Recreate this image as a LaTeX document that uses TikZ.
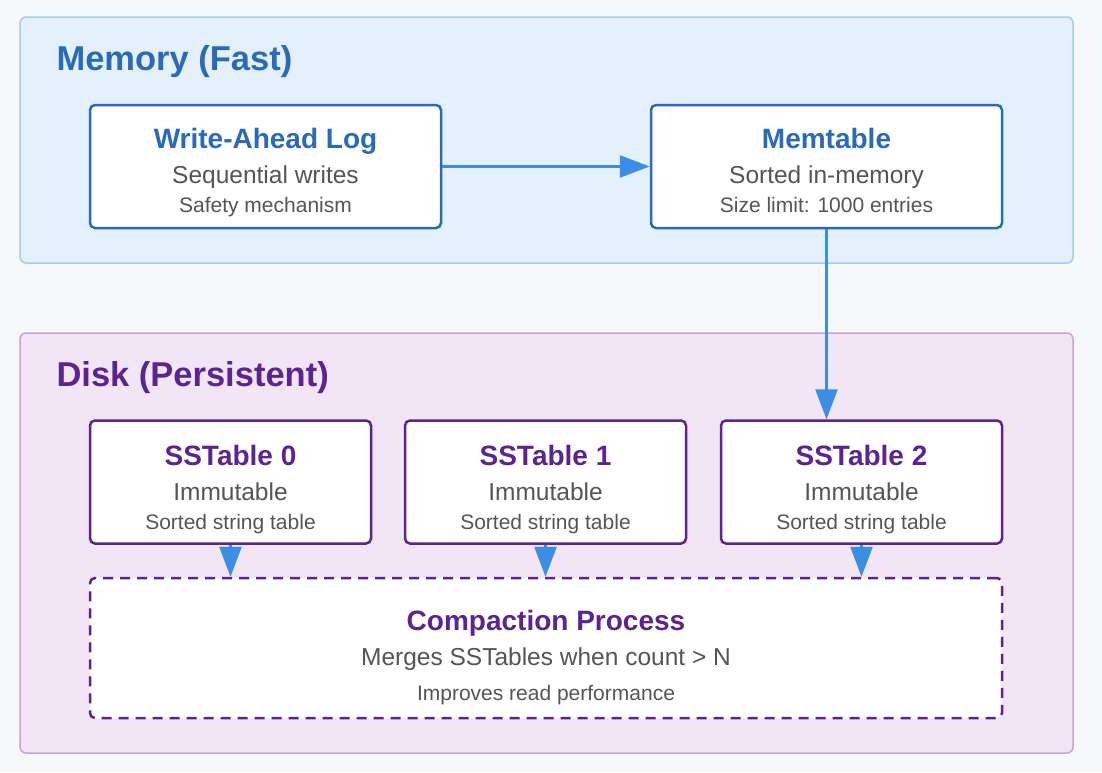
\documentclass[tikz,border=0pt]{standalone}
\usepackage{fontspec}
\setmainfont{Liberation Sans}
\usetikzlibrary{arrows.meta,positioning}
\definecolor{pagebg}{RGB}{247,248,250}
\definecolor{memfill}{RGB}{228,241,252}
\definecolor{memline}{RGB}{166,205,240}
\definecolor{memblue}{RGB}{42,106,184}
\definecolor{diskfill}{RGB}{242,229,245}
\definecolor{diskline}{RGB}{200,163,214}
\definecolor{diskpurple}{RGB}{92,36,145}
\definecolor{flowblue}{RGB}{58,142,228}
\definecolor{subgrey}{RGB}{85,85,85}

\begin{document}
\begin{tikzpicture}[x=1pt,y=-1pt,
    layer/.style={line width=1.5pt,rounded corners=6pt,inner sep=0pt,minimum width=1053pt},
    layertitle/.style={font=\fontsize{34.5}{38}\selectfont\bfseries,anchor=base west},
    stagebox/.style={fill=white,line width=2.5pt,rounded corners=5pt,inner sep=0pt,minimum height=123pt},
    membox/.style={stagebox,draw=memblue,minimum width=351pt},
    diskbox/.style={stagebox,draw=diskpurple,minimum width=281pt},
    boxtitle/.style={font=\fontsize{28}{32}\selectfont\bfseries,anchor=base},
    boxline/.style={font=\fontsize{24.5}{28}\selectfont,text=subgrey,anchor=base},
    boxnote/.style={font=\fontsize{21}{24}\selectfont,text=subgrey,anchor=base},
    flow/.style={draw=flowblue,line width=2.5pt,-{Triangle[length=30pt,width=22pt]}}]
  \fill[pagebg] (0,0) rectangle (1102,772);
  \useasboundingbox (0,0) rectangle (1102,772);

  % memory layer
  \node[layer,draw=memline,fill=memfill,minimum height=246pt] (mem) at (546.5,140) {};
  \node[layertitle,text=memblue] (memtitle) at (53,70) {Memory (Fast)};
  \node[membox] (wal) at (265.5,166.5) {};
  \node[membox] (memtable) at (826.5,166.5) {};
  \foreach \n/\t/\a/\b in {wal/Write-Ahead Log/Sequential writes/Safety mechanism,
      memtable/Memtable/Sorted in-memory/Size limit: 1000 entries}{
    \node[boxtitle,text=memblue] (\n-title) at ([yshift=18.5pt]\n.center) {\t};
    \node[boxline] (\n-line) at ([yshift=-17pt]\n.center) {\a};
    \node[boxnote] (\n-note) at ([yshift=-46pt]\n.center) {\b};
  }

  % disk layer
  \node[layer,draw=diskline,fill=diskfill,minimum height=420pt] (disk) at (546.5,543) {};
  \node[layertitle,text=diskpurple] (disktitle) at (53,386) {Disk (Persistent)};
  \node[stagebox,draw=diskpurple,dashed,dash pattern=on 10pt off 7pt,
    minimum width=912pt,minimum height=140pt] (compact) at (546,648) {};
  \node[boxtitle,text=diskpurple] (compact-title) at ([yshift=17.5pt]compact.center) {Compaction Process};
  \node[boxline] (compact-line) at ([yshift=-17.5pt]compact.center) {Merges SSTables when count > N};
  \node[boxnote] (compact-note) at ([yshift=-52pt]compact.center) {Improves read performance};
  \foreach \x [count=\i from 0] in {230.5,545.5,861.5}{
    \node[diskbox] (sst\i) at (\x,482) {};
    \node[boxtitle,text=diskpurple] (sst\i-title) at ([yshift=16.5pt]sst\i.center) {SSTable \i};
    \node[boxline] (sst\i-line) at ([yshift=-18pt]sst\i.center) {Immutable};
    \node[boxnote] (sst\i-note) at ([yshift=-47pt]sst\i.center) {Sorted string table};
    \draw[flow] (sst\i.south) -- (sst\i.south |- compact.north);
  }

  % data flow
  \draw[flow] (wal) -- (memtable);
  \draw[flow] (memtable.south) -- (memtable.south |- sst2.north);
\end{tikzpicture}
\end{document}
